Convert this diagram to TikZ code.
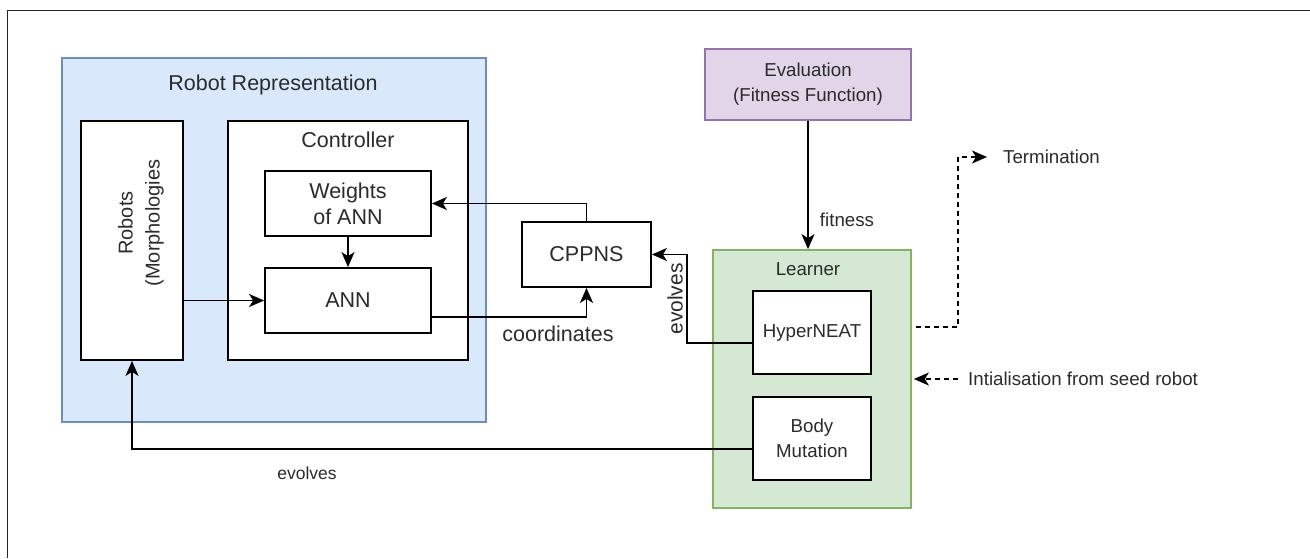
\documentclass[tikz,border=0pt]{standalone}
\usepackage{fontspec}
\setmainfont{Liberation Sans}
\usetikzlibrary{arrows.meta,calc}
\definecolor{txt}{HTML}{2B2B2B}
\definecolor{bluefill}{HTML}{DAE8FC}
\definecolor{bluedraw}{HTML}{6C8EBF}
\definecolor{greenfill}{HTML}{D5E8D4}
\definecolor{greendraw}{HTML}{82B366}
\definecolor{purplefill}{HTML}{E1D5E7}
\definecolor{purpledraw}{HTML}{9673A6}
\begin{document}
\begin{tikzpicture}[x=1pt,y=-1pt,
  every node/.style={font=\fontsize{18.7}{25}\selectfont, text=txt},
  big/.style={font=\fontsize{21.5}{26}\selectfont},
  box/.style={draw=black, line width=1.8pt, fill=white, inner sep=0pt, align=center},
  group/.style={line width=1.7pt, inner sep=0pt},
  conn/.style={draw=black, line width=1.7pt, -{Stealth[length=15pt,width=13pt,inset=4pt]}},
  dconn/.style={conn, dash pattern=on 5pt off 4pt},
  lbl/.style={inner sep=0pt}
]
\useasboundingbox (0,0) rectangle (1310,558);
% outer frame (only top and left edges visible)
\draw[line width=1.8pt, draw=black!85] (7.5,558) -- (7.5,10.5) -- (1310,10.5);

% Robot Representation group
\node[group, draw=bluedraw, fill=bluefill, minimum width=424pt, minimum height=364pt] (rr) at (274,240) {};
\node[lbl, big] (rrtitle) at (273,85) {Robot Representation};

\node[box, minimum width=102pt, minimum height=239pt] (robots) at (132,240.5) {};
\node[lbl, rotate=90, align=center, font=\fontsize{20}{27}\selectfont] (robotstxt) at (141,223) {Robots\\(Morphologies};

\node[box, minimum width=240pt, minimum height=239pt] (ctrl) at (348,240.5) {};
\node[lbl, big] (ctrltitle) at (348,140) {Controller};

\node[box, big, minimum width=166pt, minimum height=65pt] (weights) at (348,203.5) {Weights\\of ANN};
\node[box, big, minimum width=166pt, minimum height=65pt] (ann) at (348,300.5) {ANN};

\node[box, big, minimum width=129pt, minimum height=65pt] (cppns) at (586.5,254.5) {CPPNS};

% Evaluation
\node[box, draw=purpledraw, fill=purplefill, line width=1.7pt, minimum width=206pt, minimum height=71pt] (eval) at (808,84.5) {Evaluation\\(Fitness Function)};

% Learner group
\node[group, draw=greendraw, fill=greenfill, minimum width=198pt, minimum height=258pt] (learner) at (812,379) {};
\node[lbl] (learnertitle) at (808,269) {Learner};
\node[box, minimum width=118pt, minimum height=83pt] (hyper) at (812,332.5) {HyperNEAT};
\node[box, minimum width=118pt, minimum height=83pt] (body) at (812,438.5) {Body\\Mutation};

% side labels
\node[anchor=west, inner xsep=16pt, inner ysep=0pt] (term) at (987,157) {Termination};
\node[anchor=west, inner xsep=10pt, inner ysep=0pt] (init) at (958,379) {Intialisation from seed robot};

% connectors
\draw[conn] (weights.south) -- (ann.north);
\draw[conn] (robots.east |- ann.west) -- (ann.west);
\draw[conn] ([yshift=-16.5pt]ann.east) -| (cppns.south);
\draw[conn] (cppns.north) |- (weights.east);
\draw[conn] ([yshift=-10.5pt]hyper.west) -- ++(-65,0) |- (cppns.east);
\draw[conn] ([yshift=-10.5pt]body.west) -| (robots.south);
\draw[conn] (eval.south) -- (eval.south |- learner.north);
\draw[dconn] ([xshift=4pt,yshift=52pt]learner.east) -- ++(42,0) |- (term.west);
\draw[dconn] (init.west) -- ([xshift=2pt]learner.east);

% connector labels
\node[lbl, big] (lcoord) at (558,334) {coordinates};
\node[lbl, rotate=90, font=\fontsize{21}{25}\selectfont] (levolves1) at (675,299) {evolves};
\node[lbl, font=\fontsize{17.5}{21}\selectfont] (levolves2) at (307,473) {evolves};
\node[lbl] (lfitness) at (847,220) {fitness};
\end{tikzpicture}
\end{document}
